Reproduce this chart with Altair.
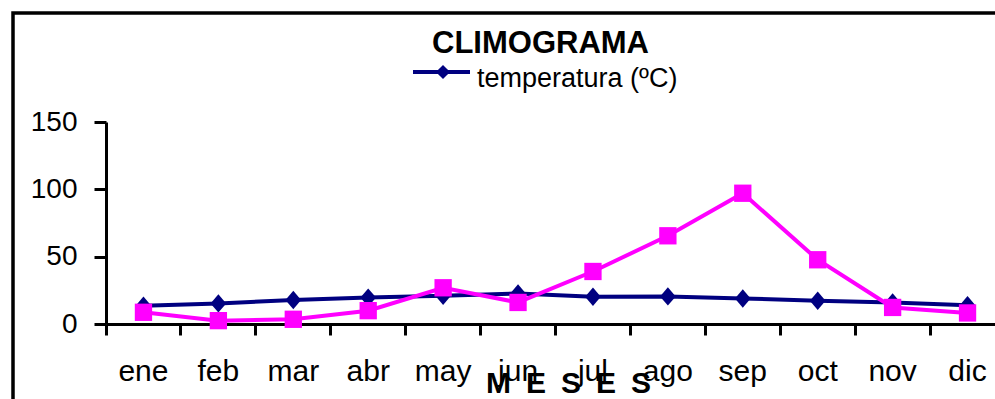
import altair as alt
import pandas as pd

# ---- data ----
meses = ["ene", "feb", "mar", "abr", "may", "jun", "jul", "ago", "sep", "oct", "nov", "dic"]
temperatura = [13.5, 15.3, 17.8, 19.6, 21.0, 22.7, 20.3, 20.5, 19.0, 17.3, 16.0, 14.0]
precipitacion = [8.7, 2.5, 3.5, 9.9, 26.9, 16.0, 39.0, 65.5, 97.1, 47.7, 12.3, 8.2]
y_ticks = [0, 50, 100, 150]
titulo = "CLIMOGRAMA"
serie_temp = "temperatura (ºC)"
eje_x = "M\u2002E\u2002S\u2002E\u2002S"

df = pd.DataFrame({"mes": meses, "temperatura": temperatura, "precipitacion": precipitacion})

FONT = "Liberation Sans"
NAVY = "#000080"
MAGENTA = "#FF00FF"
PLOT_W = 889
RANGE_W = 899
PLOT_H = 202
DIAMOND = "M0,-1L0.85,0L0,1L-0.85,0Z"

x_scale = alt.Scale(type="band", paddingInner=0, paddingOuter=0, range=[0, RANGE_W])
y_scale = alt.Scale(domain=[0, 150], nice=False, zero=True)

x_axis = alt.Axis(
    title=eje_x, bandPosition=0, labelAngle=0, labelFont=FONT, labelFontSize=30,
    labelColor="black", labelBaseline="alphabetic", labelPadding=45,
    tickSize=11, tickWidth=3, tickColor="black", domainWidth=3, domainColor="black",
    grid=False, titleFont=FONT, titleFontSize=30, titleFontWeight="bold",
    titleColor="black", titleX=462, titleY=68, titleBaseline="alphabetic", titleAlign="center",
    labelOverlap=False,
)
y_axis = alt.Axis(
    values=y_ticks, title=None, labelFont=FONT, labelFontSize=28, labelColor="black",
    labelPadding=17, tickSize=12, tickWidth=3, tickColor="black", domainWidth=3,
    domainColor="black", grid=False,
)

base = alt.Chart(df)
xe = alt.X("mes:N", sort=meses, scale=x_scale, axis=x_axis, bandPosition=0.5)

temp_line = base.mark_line(color=NAVY, strokeWidth=4).encode(
    x=xe, y=alt.Y("temperatura:Q", scale=y_scale, axis=y_axis))
temp_pts = base.mark_point(shape=DIAMOND, filled=True, opacity=1, size=340, color=NAVY).encode(
    x=xe, y=alt.Y("temperatura:Q", scale=y_scale, axis=y_axis))
prec_line = base.mark_line(color=MAGENTA, strokeWidth=4).encode(
    x=xe, y=alt.Y("precipitacion:Q", scale=y_scale, axis=y_axis))
prec_pts = base.mark_point(shape="square", filled=True, opacity=1, size=300, color=MAGENTA).encode(
    x=xe, y=alt.Y("precipitacion:Q", scale=y_scale, axis=y_axis))

one = pd.DataFrame({"k": [0]})
frame = alt.Chart(one).mark_rect(fill="white", fillOpacity=0, stroke="black", strokeWidth=3.5).encode(
    x=alt.value(-93), x2=alt.value(1000), y=alt.value(-109), y2=alt.value(400))
title_t = alt.Chart(one).mark_text(
    text=titulo, font=FONT, fontSize=31, fontWeight="bold", align="center",
    baseline="alphabetic", color="black").encode(x=alt.value(434.5), y=alt.value(-69))
leg_line = alt.Chart(one).mark_rule(color=NAVY, strokeWidth=4).encode(
    x=alt.value(307), x2=alt.value(364), y=alt.value(-50))
leg_pt = alt.Chart(one).mark_point(shape="diamond", filled=True, opacity=1, size=200, color=NAVY).encode(
    x=alt.value(337), y=alt.value(-50))
leg_txt = alt.Chart(one).mark_text(
    text=serie_temp, font=FONT, fontSize=27, align="left", baseline="alphabetic",
    color="black").encode(x=alt.value(371), y=alt.value(-35.5))

chart = alt.layer(
    frame, temp_line, temp_pts, prec_line, prec_pts, title_t, leg_line, leg_pt, leg_txt
).properties(
    width=PLOT_W, height=PLOT_H,
    autosize=alt.AutoSizeParams(type="none"),
    padding={"left": 106, "top": 122, "right": 0, "bottom": 75},
    background="white",
).configure(font=FONT).configure_view(strokeWidth=0, stroke="transparent")

chart.save("out.html", embed_options={"renderer": "svg", "actions": False})
